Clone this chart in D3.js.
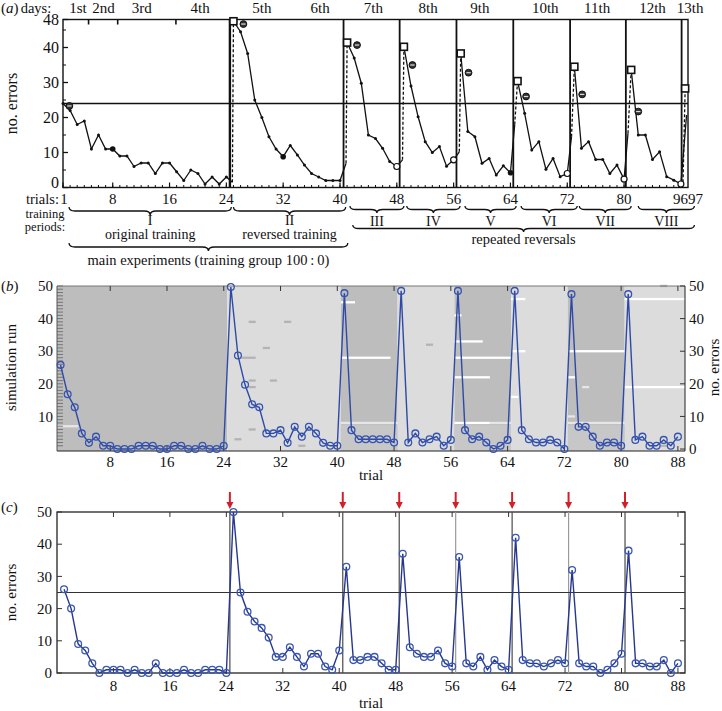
<!DOCTYPE html>
<html><head><meta charset="utf-8">
<script src="https://cdn.jsdelivr.net/npm/d3@7"></script>
<style>
body{margin:0;background:#fff}
svg{display:block}
text{font-family:"Liberation Serif","Times New Roman","DejaVu Serif",serif;fill:#111}
</style>
</head><body><svg id="chart" width="722" height="711" font-family="Liberation Serif, Times New Roman, DejaVu Serif, serif"></svg>
<script>
// ================= DATA =================
// ---- panel (a) : scanned original experiment ----
const aErrors = [24,22,18,19,11,15,11,11,9,9,6,7,7,4,7,7,4.5,2,5,4,1,3,1,3,
  47.5,44.5,38.3,25,20,14.5,11,8.8,12,9.3,6.4,4,3,2,2,2,
  41.4,37,29.8,15,14,11.2,7.4,6,
  40.2,29,20.2,13.1,10,11.7,6.1,7.9,
  38.3,16,14.5,6.9,8.3,3.6,6.2,4.2,
  30.4,21.2,10.7,13.1,5.2,8.3,3.1,4,
  34.5,11.2,13.1,8,8,4,6.4,2.4,
  33.6,15,15,8,10.2,3.1,2.1,1];
const aRevTrials = [25,41,49,57,65,73,81];
const aPreTrials = [24.85,40.85,48.8,56.8,64.6,72.6,80.55];
const aPreErrors = [1.5,6.9,7.9,10.2,18,14.5,15.5];
const aTailTrials = [88,88.8];
const aTailErrors = [1,20.7];
const aLastSquare = [88.6,28.3];
const aLastPre = [88.3,1.5];
const aMarkTrials = [1.9,26.4,42.4,50.2,58.1,66.2,74.1,82.0];
const aMarkErrors = [23.3,46.7,40.7,35,32.8,26,26.6,21.7];
const aOpenEnds = [48,56,72,80,88];
const aBigDots = [8,32,64];
const aDayLines = [24.5,40.5,48.4,56.4,64.4,72.4,80.25,88.1];
const aDayLabels = ["1st","2nd","3rd","4th","5th","6th","7th","8th","9th","10th","11th","12th","13th"];
const aDayPos = [3.1,6.7,12.1,20.3,29,37.2,44.7,52.4,59.7,68.9,76.2,84,89.3];
const aTopTicks = [4.6,8.7,16.9];
const aXTicks = [1,8,16,24,32,40,48,56,64,72,80];
const aYTicks = [0,10,20,30,40,48];
const aYMinor = [5,15,25,35,45];
const aPeriodLabels = ["I","II","III","IV","V","VI","VII","VIII"];
const aPeriodFrom = [1.85,25,41.4,49.4,57.6,65.5,73.7,82];
const aPeriodTo = [24.7,40.8,49.0,56.9,64.8,73.4,81,89.9];
const aPeriodNames = ["original training","reversed training"];

// ---- panel (b) : simulation ----
const bErrors = [25.8,16.8,12.8,4.8,1.9,3.8,1,1,0,0,0,1,1,1,0,0,1,1,0,0,1,0,0,1,
  49.7,28.7,19.7,13.7,12.8,4.8,4.8,5.8,1.9,6.8,3.8,6.8,4.8,1.9,1,1,
  47.8,5.8,3,3,3,3,3,2,
  48.5,2,4.8,2,3,3.8,1,2.8,
  48.5,5.8,3,3.8,2,0,1,2.8,
  48.5,5.8,3,2,2,2.8,2,0,
  47.5,6.8,6.8,3.8,1,2,2,1,
  47.5,2.8,3.8,1,1,2.8,1,3.8];
const bBlockEdges = [0.5,24.5,40.5,48.5,56.5,64.5,72.5,80.5,89];
const bBlockTone = ["dark","light","dark","light","dark","light","dark","light"];
const bBandFrom = [41,57,73];
const bBandTo = [48,64,80];
const bCellFrom = [1, 28,33,30,27,28,31,28,28,26,35, 41,41,41, 53, 57,57,57,57,57,62, 65,65,65, 73,73,75,73,73, 81,81,86,86];
const bCellTo   = [3, 28,33,30,28,28,31,28,28,26,35, 42,47,48, 53, 57,60,64,61,61,64, 66,66,65, 73,80,75,73,80, 89,89,86,86];
const bCellRun  = [7, 39,39,31,28,21,21,19,6,3,1,   45,28,8,  32, 41,33,28,22,8,8,   46,30,16, 22,30,19,10,8,  46,19,50,1];
const bCellTone = ["l","g","g","g","g","g","g","g","g","g","g","w","w","l","g","w","w","w","w","w","l","w","w","w","w","w","l","l","l","w","w","g","g"];
const bXTicks = [8,16,24,32,40,48,56,64,72,80,88];
const bRunLabels = [10,20,30,40,50];
const bErrTicks = [0,10,20,30,40,50];

// ---- panel (c) : model prediction ----
const cErrors = [26,20,9,7,3,0,1,1,1,0,1,0,0,3,0,0,0,1,0,0,1,1,1,0,
  50,25,19,16,14,11,5,5,8,5,2,6,6,2,1,7,
  33,4,4,5,5,3,1,1,
  37,8,6,5,5,7,3,2,
  36,3,2,5,1,4,2,1,
  42,4,3,3,2,3,4,3,
  32,3,2,2,0,1,3,6,
  38,3,3,2,2,4,0,3];
const cReversals = [24.5,40.5,48.5,56.5,64.5,72.5,80.5];
const cRevTone = ["#4a4a4a","#4a4a4a","#4a4a4a","#9a9a9a","#4a4a4a","#9a9a9a","#4a4a4a"];
const cThreshold = 25;
const cXTicks = [8,16,24,32,40,48,56,64,72,80,88];
const cYTicks = [0,10,20,30,40,50];

// ================= DRAW =================
const svg = d3.select("#chart");
const BLUE_LINE = "#26378f", BLUE_MARK = "#3957b0";

function panelLabel(g, letter, x, y) {
  const t = g.append("text").attr("x", x).attr("y", y).style("font-size","15px");
  t.append("tspan").text("(");
  t.append("tspan").attr("font-style","italic").text(letter);
  t.append("tspan").text(")");
}

// ---------- (a) ----------
const gA = svg.append("g");
const xA = d3.scaleLinear().domain([1, 89]).range([63, 688]);
const yA = d3.scaleLinear().domain([0, 48]).range([187.5, 19.5]);

panelLabel(gA, "a", 1, 13);
gA.append("text").attr("x", 36).attr("y", 13).attr("text-anchor","middle").style("font-size","14.5px").text("days:");
gA.selectAll(".day").data(aDayLabels).join("text")
  .attr("x", (d,i)=>xA(aDayPos[i])).attr("y", 13).attr("text-anchor","middle")
  .style("font-size","15px").text(d=>d);

gA.append("rect").attr("x", xA(1)).attr("y", yA(48)).attr("width", xA(89)-xA(1)).attr("height", yA(0)-yA(48))
  .attr("fill","none").attr("stroke","#111").attr("stroke-width",1.4);

// y ticks
gA.selectAll(".yt").data(aYTicks).join("line")
  .attr("x1", xA(1)).attr("x2", xA(1)+5).attr("y1", d=>yA(d)).attr("y2", d=>yA(d)).attr("stroke","#111").attr("stroke-width",1.3);
gA.selectAll(".ym").data(aYMinor).join("line")
  .attr("x1", xA(1)).attr("x2", xA(1)+3).attr("y1", d=>yA(d)).attr("y2", d=>yA(d)).attr("stroke","#111");
gA.selectAll(".yl").data(aYTicks).join("text")
  .attr("x", 59).attr("y", d=>yA(d)).attr("dy", d=>d===0?"0.0em":"0.35em").attr("text-anchor","end")
  .style("font-size","16px").text(d=>d);
gA.append("text").attr("transform", `translate(17,${(yA(0)+yA(48))/2}) rotate(-90)`)
  .attr("text-anchor","middle").style("font-size","16px").text("no. errors");

// x ticks
gA.selectAll(".xm").data(d3.range(1, 89)).join("line")
  .attr("x1", d=>xA(d)).attr("x2", d=>xA(d)).attr("y1", yA(0)).attr("y2", yA(0)-2.5).attr("stroke","#111");
gA.selectAll(".xt").data(aXTicks).join("line")
  .attr("x1", d=>xA(d)).attr("x2", d=>xA(d)).attr("y1", yA(0)).attr("y2", yA(0)-5).attr("stroke","#111").attr("stroke-width",1.2);
gA.selectAll(".tt").data(aTopTicks).join("line")
  .attr("x1", d=>xA(d)).attr("x2", d=>xA(d)).attr("y1", yA(48)).attr("y2", yA(48)+5).attr("stroke","#111").attr("stroke-width",1.6);
gA.selectAll(".xl").data(aXTicks).join("text")
  .attr("x", d=>xA(d)+(d===1?1:0)).attr("y", 204).attr("text-anchor","middle").style("font-size","15px").text(d=>d);
gA.append("text").attr("x", xA(89)).attr("y", 204).attr("text-anchor","middle").style("font-size","15px").text("9697");
gA.append("text").attr("x", 59).attr("y", 204).attr("text-anchor","end").style("font-size","14.5px").text("trials:");

// horizontal criterion line
gA.append("line").attr("x1", xA(1)).attr("x2", xA(89)).attr("y1", yA(24)).attr("y2", yA(24))
  .attr("stroke","#111").attr("stroke-width",1.6);
// day lines
gA.selectAll(".dl").data(aDayLines).join("line")
  .attr("x1", d=>xA(d)).attr("x2", d=>xA(d)).attr("y1", yA(48)).attr("y2", yA(0))
  .attr("stroke","#111").attr("stroke-width",(d,i)=>i===0?2.4:1.8);

// solid segments
const lineA = d3.line().x(d=>xA(d[0])).y(d=>yA(d[1]));
const allPts = aErrors.map((v,i)=>[i+1, v]);
const segs = [];
let seg = allPts.filter(p=>p[0] < aRevTrials[0]);
seg.push([aPreTrials[0], aPreErrors[0]]);
segs.push(seg);
aRevTrials.forEach((t,k)=>{
  const end = k < aRevTrials.length-1 ? aRevTrials[k+1] : 89;
  const s = allPts.filter(p=>p[0] >= t && p[0] < end);
  if (k < aRevTrials.length-1) s.push([aPreTrials[k+1], aPreErrors[k+1]]);
  else s.push([aTailTrials[1], aTailErrors[1]]);
  segs.push(s);
});
gA.selectAll(".seg").data(segs).join("path").attr("d", lineA)
  .attr("fill","none").attr("stroke","#111").attr("stroke-width",1.3);
// dashed jumps
const dashes = aRevTrials.map((t,k)=>[[aPreTrials[k], aPreErrors[k]],[t, aErrors[t-1]]]);
dashes.push([aLastPre, aLastSquare]);
gA.selectAll(".dash").data(dashes).join("path").attr("d", lineA)
  .attr("fill","none").attr("stroke","#111").attr("stroke-width",1.3).attr("stroke-dasharray","3,2");
// dots
gA.selectAll(".dot").data(allPts).join("circle")
  .attr("cx", d=>xA(d[0])).attr("cy", d=>yA(d[1])).attr("r", d=>aBigDots.includes(d[0])?2.8:1.5).attr("fill","#111");
gA.selectAll(".oe").data(aOpenEnds).join("circle")
  .attr("cx", d=>xA(d)).attr("cy", d=>yA(aErrors[d-1])).attr("r", 3).attr("fill","#fff").attr("stroke","#111").attr("stroke-width",1.2);
// squares
const sqPts = aRevTrials.map(t=>[t, aErrors[t-1]]).concat([aLastSquare]);
gA.selectAll(".sq").data(sqPts).join("rect")
  .attr("x", d=>xA(d[0])-3.5).attr("y", d=>yA(d[1])-3.5).attr("width",7).attr("height",7)
  .attr("fill","#fff").attr("stroke","#111").attr("stroke-width",1.6);
// side markers
const mk = gA.selectAll(".mk").data(aMarkTrials.map((t,i)=>[t, aMarkErrors[i]])).join("g")
  .attr("transform", d=>`translate(${xA(d[0])},${yA(d[1])})`);
mk.append("circle").attr("r",3.4).attr("fill","#333").attr("stroke","#111");
mk.append("line").attr("x1",-2.2).attr("x2",2.2).attr("stroke","#ddd").attr("stroke-width",1.2);

// braces
function brace(x1, x2, y, h) {
  const m = (x1+x2)/2, r = Math.min(6,(x2-x1)/5), hh = h/2;
  return `M${x1},${y} Q${x1},${y+hh} ${x1+r},${y+hh} L${m-r},${y+hh} Q${m},${y+hh} ${m},${y+h} Q${m},${y+hh} ${m+r},${y+hh} L${x2-r},${y+hh} Q${x2},${y+hh} ${x2},${y}`;
}
gA.selectAll(".pb").data(aPeriodLabels).join("path")
  .attr("d", (d,i)=>brace(xA(aPeriodFrom[i]), xA(aPeriodTo[i]), i<2?207:206, i<2?8:7))
  .attr("fill","none").attr("stroke","#111").attr("stroke-width",1.3);
gA.selectAll(".pl").data(aPeriodLabels).join("text")
  .attr("x", (d,i)=>xA((aPeriodFrom[i]+aPeriodTo[i])/2)).attr("y", (d,i)=>i<2?225:226)
  .attr("text-anchor","middle").style("font-size","14px").text(d=>d);
gA.selectAll(".pn").data(aPeriodNames).join("text")
  .attr("x", (d,i)=>xA((aPeriodFrom[i]+aPeriodTo[i])/2)).attr("y", 239)
  .attr("text-anchor","middle").style("font-size","14px").text(d=>d);
gA.append("text").attr("x",45).attr("y",218).attr("text-anchor","middle").style("font-size","12.5px").text("training");
gA.append("text").attr("x",45).attr("y",231).attr("text-anchor","middle").style("font-size","12.5px").text("periods:");
gA.append("path").attr("d", brace(xA(1.85), xA(41.1), 243, 8)).attr("fill","none").attr("stroke","#111").attr("stroke-width",1.3);
gA.append("text").attr("x", xA((1.85+41.1)/2)).attr("y", 265).attr("text-anchor","middle").style("font-size","14.5px")
  .text("main experiments (training group 100\u2009:\u20090)");
gA.append("path").attr("d", brace(xA(41.8), xA(89.9), 225, 7)).attr("fill","none").attr("stroke","#111").attr("stroke-width",1.3);
gA.append("text").attr("x", xA((41.8+89.9)/2)).attr("y", 244).attr("text-anchor","middle").style("font-size","14.5px")
  .text("repeated reversals");

// ---------- (b) ----------
const gB = svg.append("g");
const xB = d3.scaleLinear().domain([0.5, 89]).range([57, 685]);
const yB = d3.scaleLinear().domain([-0.6, 50]).range([451, 286]);
const tone = {dark:"#bdbdbd", light:"#dcdcdc", w:"#ffffff", g:"#b3b3b3", l:"#e6e6e6", m:"#c7c7c7"};
gB.selectAll(".blk").data(bBlockTone).join("rect")
  .attr("x",(d,i)=>xB(bBlockEdges[i])).attr("width",(d,i)=>xB(bBlockEdges[i+1])-xB(bBlockEdges[i]))
  .attr("y", yB(50)).attr("height", yB(-0.6)-yB(50)).attr("fill", d=>tone[d]);
gB.selectAll(".band").data(bBandFrom).join("rect")
  .attr("x", d=>xB(d-0.5)).attr("width",(d,i)=>xB(bBandTo[i]+0.5)-xB(d-0.5))
  .attr("y", yB(7.3)).attr("height", yB(-0.6)-yB(7.3)).attr("fill", tone.m);
const rowH = yB(0)-yB(1);
gB.selectAll(".cell").data(bCellRun).join("rect")
  .attr("x",(d,i)=>xB(bCellFrom[i]-0.5)).attr("width",(d,i)=>Math.min(xB(89),xB(bCellTo[i]+0.5))-xB(bCellFrom[i]-0.5))
  .attr("y", d=>yB(d)-rowH*0.35).attr("height", rowH*0.7).attr("fill",(d,i)=>tone[bCellTone[i]]);
// run ticks (left)
gB.selectAll(".rt").data(d3.range(1,51)).join("line")
  .attr("x1", xB(0.5)).attr("x2", xB(0.5)+6).attr("y1", d=>yB(d)).attr("y2", d=>yB(d))
  .attr("stroke","#6d6d6d").attr("stroke-width",0.9);
gB.selectAll(".rl").data(bRunLabels).join("text")
  .attr("x", 53).attr("y", d=>yB(d)).attr("dy","0.35em").attr("text-anchor","end").style("font-size","15px").text(d=>d);
gB.append("text").attr("transform", `translate(16,${(yB(0)+yB(50))/2}) rotate(-90)`)
  .attr("text-anchor","middle").style("font-size","15px").text("simulation run");
// frame
gB.append("line").attr("x1",xB(0.5)).attr("x2",xB(89)).attr("y1",yB(50)).attr("y2",yB(50)).attr("stroke","#777");
gB.append("line").attr("x1",xB(0.5)).attr("x2",xB(89)).attr("y1",yB(-0.6)).attr("y2",yB(-0.6)).attr("stroke","#222");
gB.append("line").attr("x1",xB(0.5)).attr("x2",xB(0.5)).attr("y1",yB(50)).attr("y2",yB(-0.6)).attr("stroke","#555");
gB.append("line").attr("x1",xB(89)).attr("x2",xB(89)).attr("y1",yB(50)).attr("y2",yB(-0.6)).attr("stroke","#222");
// x ticks
gB.selectAll(".bt").data(bXTicks).join("line")
  .attr("x1", d=>xB(d)).attr("x2", d=>xB(d)).attr("y1", yB(-0.6)).attr("y2", yB(-0.6)-5).attr("stroke","#333");
gB.selectAll(".tt").data(bXTicks).join("line")
  .attr("x1", d=>xB(d)).attr("x2", d=>xB(d)).attr("y1", yB(50)).attr("y2", yB(50)+5).attr("stroke","#333");
gB.selectAll(".xl").data(bXTicks).join("text")
  .attr("x", d=>xB(d)).attr("y", 467).attr("text-anchor","middle").style("font-size","15px").text(d=>d);
gB.append("text").attr("x", 371).attr("y", 480).attr("text-anchor","middle").style("font-size","15px").text("trial");
// right error axis
gB.selectAll(".et").data(bErrTicks).join("line")
  .attr("x1", xB(89)-5).attr("x2", xB(89)).attr("y1", d=>yB(d)).attr("y2", d=>yB(d)).attr("stroke","#333");
gB.selectAll(".el").data(bErrTicks).join("text")
  .attr("x", 689).attr("y", d=>yB(d)).attr("dy","0.35em").style("font-size","15px").text(d=>d);
gB.append("text").attr("transform", `translate(719,${(yB(0)+yB(50))/2}) rotate(-90)`)
  .attr("text-anchor","middle").style("font-size","15px").text("no. errors");
panelLabel(gB, "b", 1, 291);
// series
const bPts = bErrors.map((v,i)=>[i+1, v]);
gB.append("path").datum(bPts).attr("d", d3.line().x(d=>xB(d[0])).y(d=>yB(d[1])))
  .attr("fill","none").attr("stroke","#2f4aa6").attr("stroke-width",1.4);
gB.selectAll(".pt").data(bPts).join("circle")
  .attr("cx", d=>xB(d[0])).attr("cy", d=>yB(d[1])).attr("r",3.4)
  .attr("fill","none").attr("stroke","#3553b0").attr("stroke-width",1.3);

// ---------- (c) ----------
const gC = svg.append("g");
const xC = d3.scaleLinear().domain([0, 89]).range([57, 685]);
const yC = d3.scaleLinear().domain([0, 50]).range([673, 512]);
gC.append("rect").attr("x", xC(0)).attr("y", yC(50)).attr("width", xC(89)-xC(0)).attr("height", yC(0)-yC(50))
  .attr("fill","none").attr("stroke","#111").attr("stroke-width",1.2);
gC.selectAll(".rv").data(cReversals).join("line")
  .attr("x1", d=>xC(d)).attr("x2", d=>xC(d)).attr("y1", yC(50)).attr("y2", yC(0))
  .attr("stroke",(d,i)=>cRevTone[i]).attr("stroke-width",1.2);
gC.append("line").attr("x1", xC(0)).attr("x2", xC(89)).attr("y1", yC(cThreshold)).attr("y2", yC(cThreshold))
  .attr("stroke","#333").attr("stroke-width",1);
// ticks
gC.selectAll(".tb").data(cXTicks).join("line")
  .attr("x1", d=>xC(d)).attr("x2", d=>xC(d)).attr("y1", yC(0)).attr("y2", yC(0)-5).attr("stroke","#333");
gC.selectAll(".tt").data(cXTicks).join("line")
  .attr("x1", d=>xC(d)).attr("x2", d=>xC(d)).attr("y1", yC(50)).attr("y2", yC(50)+5).attr("stroke","#333");
gC.selectAll(".tl").data(cYTicks).join("line")
  .attr("x1", xC(0)).attr("x2", xC(0)+5).attr("y1", d=>yC(d)).attr("y2", d=>yC(d)).attr("stroke","#333");
gC.selectAll(".tr").data(cYTicks).join("line")
  .attr("x1", xC(89)-5).attr("x2", xC(89)).attr("y1", d=>yC(d)).attr("y2", d=>yC(d)).attr("stroke","#333");
gC.selectAll(".xl").data(cXTicks).join("text")
  .attr("x", d=>xC(d)).attr("y", 691).attr("text-anchor","middle").style("font-size","15px").text(d=>d);
gC.selectAll(".yl").data(cYTicks).join("text")
  .attr("x", 52).attr("y", d=>yC(d)).attr("dy","0.35em").attr("text-anchor","end").style("font-size","15px").text(d=>d);
gC.append("text").attr("x", 371).attr("y", 708).attr("text-anchor","middle").style("font-size","15px").text("trial");
gC.append("text").attr("transform", `translate(16,${(yC(0)+yC(50))/2}) rotate(-90)`)
  .attr("text-anchor","middle").style("font-size","15px").text("no. errors");
panelLabel(gC, "c", 1, 512);
// arrows
const ar = gC.selectAll(".ar").data(cReversals).join("g").attr("transform", d=>`translate(${xC(d)},0)`);
ar.append("line").attr("x1",0).attr("x2",0).attr("y1",492).attr("y2",504).attr("stroke","#d0202a").attr("stroke-width",2);
ar.append("path").attr("d","M-3.5,502 L3.5,502 L0,509 Z").attr("fill","#d0202a");
// series
const cPts = cErrors.map((v,i)=>[i+1, v]);
gC.append("path").datum(cPts).attr("d", d3.line().x(d=>xC(d[0])).y(d=>yC(d[1])))
  .attr("fill","none").attr("stroke",BLUE_LINE).attr("stroke-width",1.4);
gC.selectAll(".pt").data(cPts).join("circle")
  .attr("cx", d=>xC(d[0])).attr("cy", d=>yC(d[1])).attr("r",3.4)
  .attr("fill","none").attr("stroke",BLUE_MARK).attr("stroke-width",1.3);
</script>
</body></html>
